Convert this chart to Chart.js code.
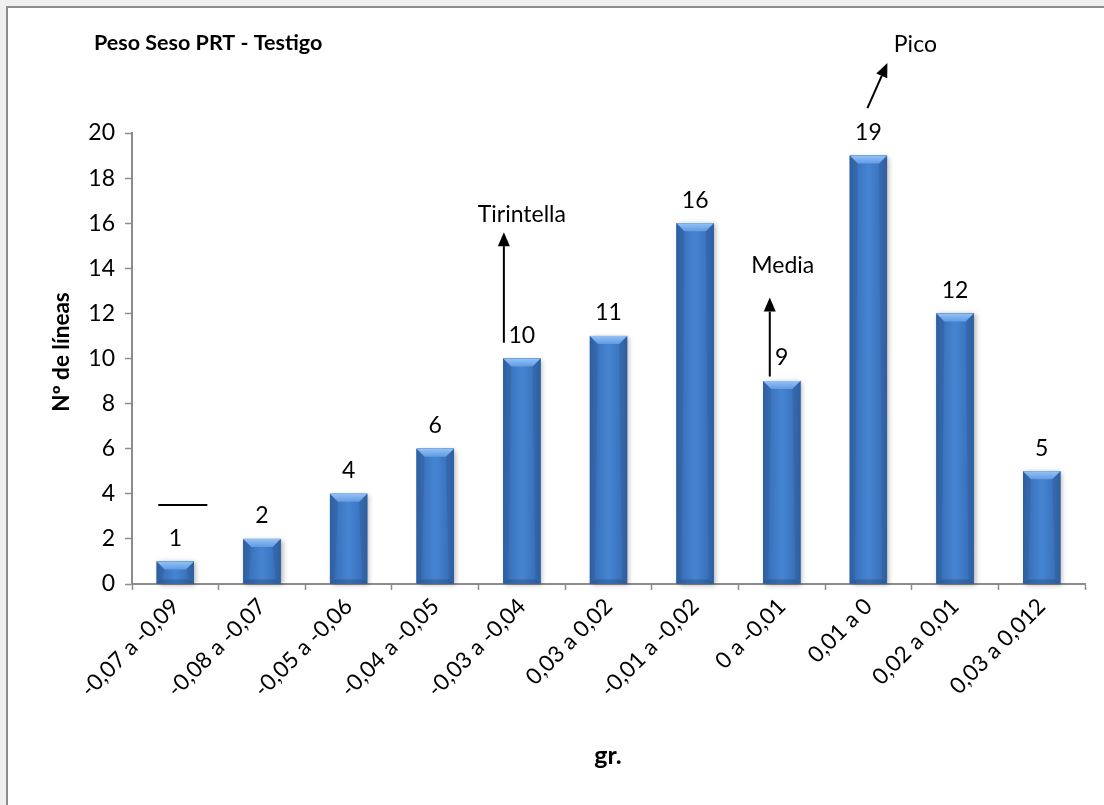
<!DOCTYPE html>
<html>
<head>
<meta charset="utf-8">
<script src="https://cdn.jsdelivr.net/npm/chart.js@4/dist/chart.umd.min.js"></script>
<style>
    html, body { margin: 0; padding: 0; background: #f0f0f0; }
    #wrap { position: absolute; left: 0; top: 0; width: 1104px; height: 805px; }
</style>
</head>
<body>
<div id="wrap"><canvas id="canvas" width="1104" height="805"></canvas></div>
<script>
    // rangos de peso (gr.) y número de líneas en cada uno
    var rangos = ['-0,07 a -0,09', '-0,08 a -0,07', '-0,05 a -0,06', '-0,04 a -0,05', '-0,03 a -0,04',
        '0,03 a 0,02', '-0,01 a -0,02', '0 a -0,01', '0,01 a 0', '0,02 a 0,01', '0,03 a 0,012'];
    var lineas = [1, 2, 4, 6, 10, 11, 16, 9, 19, 12, 5];

    var titulo = 'Peso Seso PRT - Testigo';
    var tituloY = 'Nº de líneas';
    var tituloX = 'gr.';

    // flechas: categoría, desplazamiento en px, valores de inicio / punta
    var flechas = [
        {idx: 4, dx0: -18, v0: 10.7, dx1: -18, v1: 15.6, texto: 'Tirintella', tdx: 0, tv: 16.4},
        {idx: 7, dx0: -12, v0: 9.2, dx1: -12, v1: 12.7, texto: 'Media', tdx: 1, tv: 14.1},
        {idx: 8, dx0: -1, v0: 21.1, dx1: 19, v1: 23.1, texto: 'Pico', tdx: 47, tv: 23.9}
    ];

    var fuente = 'Lato, "Open Sans", sans-serif';

    var marco = {
        id: 'marco',
        beforeDraw: function (chart) {
            var c = chart.ctx;
            c.save();
            c.fillStyle = '#f0f0f0';
            c.fillRect(0, 0, chart.width, chart.height);
            c.fillStyle = '#ffffff';
            c.fillRect(8, 8, chart.width - 8, chart.height - 8);
            c.fillStyle = '#8c8c8c';
            c.fillRect(6, 6, 2, chart.height - 6);
            c.fillRect(6, 6, chart.width - 6, 2);
            c.restore();
        }
    };

    // barras con efecto biselado
    var bisel = {
        id: 'bisel',
        afterDatasetsDraw: function (chart) {
            var c = chart.ctx;
            var meta = chart.getDatasetMeta(0);
            meta.data.forEach(function (bar) {
                var w = bar.width, l = bar.x - w / 2, r = bar.x + w / 2;
                var t = bar.y, b = bar.base;
                var e = 8;

                c.save();
                c.shadowColor = 'rgba(0,0,0,0.3)';
                c.shadowBlur = 5;
                c.shadowOffsetX = 2;
                c.shadowOffsetY = 1;
                c.fillStyle = '#3a6db0';
                c.fillRect(l, t, w, b - t);
                c.restore();

                c.save();
                var g = c.createLinearGradient(l, 0, r, 0);
                g.addColorStop(0, '#3265a8');
                g.addColorStop(0.25, '#3d77c2');
                g.addColorStop(0.5, '#4684d2');
                g.addColorStop(0.75, '#3d77c2');
                g.addColorStop(1, '#3265a8');
                c.fillStyle = g;
                c.fillRect(l, t, w, b - t);

                // lados
                c.fillStyle = 'rgba(30,60,110,0.16)';
                c.beginPath();
                c.moveTo(l, t); c.lineTo(l + e, t + e); c.lineTo(l + 5, b - 4); c.lineTo(l, b);
                c.closePath(); c.fill();
                c.beginPath();
                c.moveTo(r, t); c.lineTo(r - e, t + e); c.lineTo(r - 5, b - 4); c.lineTo(r, b);
                c.closePath(); c.fill();

                // cara superior
                var gt = c.createLinearGradient(0, t, 0, t + e);
                gt.addColorStop(0, '#93c3f6');
                gt.addColorStop(1, '#629be3');
                c.fillStyle = gt;
                c.beginPath();
                c.moveTo(l, t); c.lineTo(r, t); c.lineTo(r - e, t + e); c.lineTo(l + e, t + e);
                c.closePath(); c.fill();

                // base
                c.fillStyle = 'rgba(25,55,100,0.3)';
                c.beginPath();
                c.moveTo(l, b); c.lineTo(r, b); c.lineTo(r - 5, b - 4); c.lineTo(l + 5, b - 4);
                c.closePath(); c.fill();
                c.restore();
            });
        }
    };

    var textos = {
        id: 'textos',
        afterDraw: function (chart) {
            var c = chart.ctx;
            var xs = chart.scales.x, ys = chart.scales.y;
            var meta = chart.getDatasetMeta(0);
            c.save();
            c.fillStyle = '#000';
            c.strokeStyle = '#000';
            c.textAlign = 'center';
            c.textBaseline = 'middle';

            // valores sobre las barras
            c.font = '23px ' + fuente;
            meta.data.forEach(function (bar, i) {
                c.fillText(String(lineas[i]), bar.x, bar.y - 23);
            });

            // títulos
            c.font = 'bold 21.5px ' + fuente;
            c.textAlign = 'left';
            c.fillText(titulo, 94, 43);
            c.textAlign = 'center';
            c.font = 'bold 25px ' + fuente;
            c.fillText(tituloX, 608, 756);
            c.font = 'bold 22.5px ' + fuente;
            c.save();
            c.translate(62, 352);
            c.rotate(-Math.PI / 2);
            c.fillText(tituloY, 0, 0);
            c.restore();

            // flechas y etiquetas
            c.lineWidth = 2;
            c.font = '23px ' + fuente;
            flechas.forEach(function (f) {
                var cx = xs.getPixelForValue(f.idx);
                var x0 = cx + f.dx0, y0 = ys.getPixelForValue(f.v0);
                var x1 = cx + f.dx1, y1 = ys.getPixelForValue(f.v1);
                var ang = Math.atan2(y1 - y0, x1 - x0);
                var hl = 14, hw = 6;
                var bx = x1 - hl * Math.cos(ang), by = y1 - hl * Math.sin(ang);
                c.beginPath();
                c.moveTo(x0, y0);
                c.lineTo(bx, by);
                c.stroke();
                c.beginPath();
                c.moveTo(x1, y1);
                c.lineTo(bx + hw * Math.sin(ang), by - hw * Math.cos(ang));
                c.lineTo(bx - hw * Math.sin(ang), by + hw * Math.cos(ang));
                c.closePath();
                c.fill();
                c.fillText(f.texto, cx + f.tdx, ys.getPixelForValue(f.tv));
            });

            // trazo corto sobre la primera barra
            var c0 = xs.getPixelForValue(0), ly = ys.getPixelForValue(3.5);
            c.beginPath();
            c.moveTo(c0 - 17, ly);
            c.lineTo(c0 + 32, ly);
            c.stroke();
            c.restore();
        }
    };

    var config = {
        type: 'bar',
        data: {
            labels: rangos,
            datasets: [{
                data: lineas,
                backgroundColor: '#3a6db0',
                categoryPercentage: 1,
                barPercentage: 0.43
            }]
        },
        options: {
            responsive: false,
            animation: false,
            layout: {padding: {left: 0, top: 133, right: 19, bottom: 0}},
            plugins: {
                legend: {display: false},
                tooltip: {enabled: false}
            },
            scales: {
                x: {
                    grid: {
                        offset: true,
                        drawOnChartArea: false,
                        tickLength: 6,
                        tickColor: '#8c8c8c',
                        tickWidth: 1.5
                    },
                    border: {color: '#8c8c8c', width: 2},
                    ticks: {
                        color: '#000',
                        font: {family: fuente, size: 22.5},
                        minRotation: 45,
                        maxRotation: 45,
                        padding: 3,
                        autoSkip: false
                    },
                    afterFit: function (s) { s.height = 221; }
                },
                y: {
                    min: 0,
                    max: 20,
                    ticks: {
                        stepSize: 2,
                        color: '#000',
                        font: {family: fuente, size: 23},
                        padding: 10
                    },
                    grid: {
                        drawOnChartArea: false,
                        tickLength: 7,
                        tickColor: '#8c8c8c',
                        tickWidth: 1.5
                    },
                    border: {color: '#8c8c8c', width: 2},
                    afterFit: function (s) { s.width = 132; }
                }
            }
        },
        plugins: [marco, bisel, textos]
    };

    var ctx = document.getElementById("canvas").getContext("2d");
    new Chart(ctx, config);
</script>
</body>
</html>
